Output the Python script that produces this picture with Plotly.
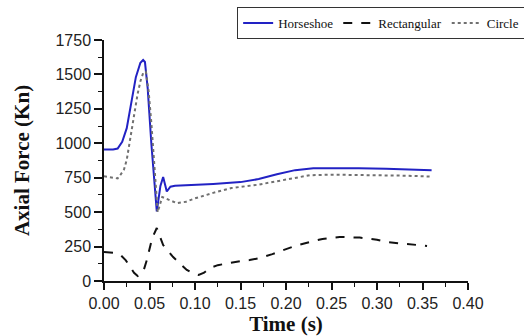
import plotly.graph_objects as go

# Horseshoe
t_horse = [0, 0.01, 0.015, 0.02, 0.025, 0.03, 0.035, 0.04, 0.043, 0.045, 0.048, 0.052, 0.055,
           0.058, 0.062, 0.065, 0.069, 0.073, 0.078, 0.09, 0.1, 0.12, 0.15, 0.17, 0.19, 0.21,
           0.23, 0.25, 0.28, 0.31, 0.34, 0.36]
v_horse = [955, 955, 962, 1010, 1110, 1290, 1480, 1585, 1605, 1590, 1400, 1000, 720,
           505, 690, 755, 650, 685, 692, 695, 700, 705, 718, 740, 775, 805,
           818, 820, 818, 815, 810, 805]

# Rectangular
t_rect = [0, 0.01, 0.018, 0.024, 0.029, 0.033, 0.037, 0.043, 0.047, 0.05, 0.053, 0.058,
          0.062, 0.065, 0.07, 0.076, 0.083, 0.091, 0.098, 0.104, 0.11, 0.116, 0.125, 0.138,
          0.15, 0.16, 0.171, 0.185, 0.197, 0.21, 0.226, 0.24, 0.259, 0.281, 0.3, 0.311,
          0.33, 0.355]
v_rect = [210, 205, 190, 150, 100, 60, 36, 65, 150, 225, 312, 385,
          320, 261, 220, 174, 130, 80, 55, 44, 60, 94, 115, 131,
          145, 152, 167, 195, 225, 255, 283, 305, 320, 315, 300, 283,
          270, 255]

# Circle
t_circ = [0, 0.01, 0.015, 0.018, 0.022, 0.025, 0.028, 0.031, 0.034, 0.037, 0.04, 0.043,
          0.046, 0.049, 0.052, 0.055, 0.059, 0.064, 0.072, 0.08, 0.09, 0.1, 0.12, 0.14,
          0.17, 0.2, 0.226, 0.25, 0.3, 0.33, 0.36]
v_circ = [760, 750, 745, 770, 810, 880, 1000, 1130, 1240, 1360, 1450, 1510,
          1520, 1380, 1150, 850, 500, 610, 585, 565, 575, 600, 640, 675,
          700, 735, 768, 772, 770, 765, 758]

x_ticks = [0.0, 0.05, 0.1, 0.15, 0.2, 0.25, 0.3, 0.35, 0.4]
y_ticks = [0, 250, 500, 750, 1000, 1250, 1500, 1750]

fig = go.Figure()
fig.add_trace(go.Scatter(x=t_horse, y=v_horse, mode="lines", name="Horseshoe",
                         line=dict(color="#2222c4", width=2)))
fig.add_trace(go.Scatter(x=t_rect, y=v_rect, mode="lines", name="Rectangular",
                         line=dict(color="#111111", width=2, dash="dash")))
fig.add_trace(go.Scatter(x=t_circ, y=v_circ, mode="lines", name="Circle",
                         line=dict(color="#707070", width=2, dash="dot")))

tickfont = dict(family="Liberation Sans, Arial", size=16, color="#222222")
titlefont = dict(family="Liberation Serif, Times New Roman", size=21, color="#111111", weight="bold")

fig.update_layout(
    width=524, height=336,
    margin=dict(l=104, r=56, t=40, b=55, autoexpand=False),
    paper_bgcolor="white", plot_bgcolor="white",
    showlegend=True,
    legend=dict(orientation="h", x=1.157, xanchor="right", y=1.137, yanchor="top",
                bordercolor="#333333", borderwidth=1, bgcolor="white",
                font=dict(family="Liberation Serif, Times New Roman", size=13, color="#111111"),
                itemwidth=30, tracegroupgap=0),
    xaxis=dict(range=[0, 0.4], tickvals=x_ticks, tickformat=".2f",
               showline=True, linecolor="#111111", linewidth=1.5, mirror=False,
               ticks="outside", ticklen=7, tickwidth=1.5, tickcolor="#111111",
               minor=dict(ticks="outside", ticklen=4, dtick=0.025, tickcolor="#111111", tickwidth=1.2),
               showgrid=False, zeroline=False, tickfont=tickfont,
               title=dict(text="Time (s)", font=titlefont, standoff=6)),
    yaxis=dict(range=[0, 1750], tickvals=y_ticks,
               showline=True, linecolor="#111111", linewidth=1.5, mirror=False,
               ticks="outside", ticklen=8, tickwidth=1.5, tickcolor="#111111",
               minor=dict(ticks="outside", ticklen=4, dtick=125, tickcolor="#111111", tickwidth=1.2),
               showgrid=False, zeroline=False, tickfont=tickfont,
               title=dict(text="Axial Force (Kn)", font=titlefont, standoff=20)),
)

fig.write_html("out.html", config={"displayModeBar": False},
               post_script="document.body.style.margin='0';document.body.style.padding='0';")
